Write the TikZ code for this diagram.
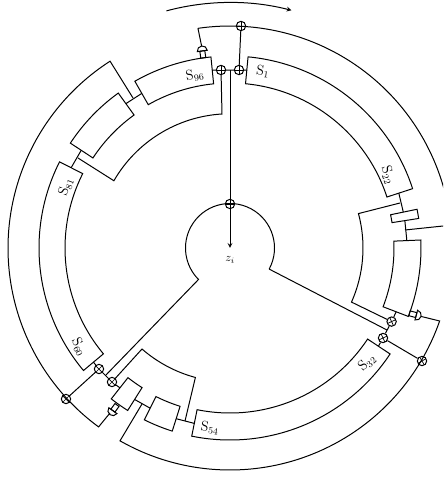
\documentclass[tikz,border=0pt]{standalone}
\usepackage{amsmath}
\usetikzlibrary{arrows,shapes,positioning}
\tikzset{
  joint/.style={circle,draw,inner sep=0pt,minimum size=8pt,
    path picture={\draw [line width=0.6pt] (path picture bounding box.center) +(#1:6pt) -- +(#1+180:6pt) +(#1+90:6pt) -- +(#1+270:6pt);}},
  joint/.default=0,
  lab/.style={inner sep=0pt,font=\large},
  valve/.pic={
    \draw (0,-2.5) rectangle (7,2.5);
    \draw (7,-5) arc (-90:90:5) -- cycle;
  }
}
\begin{document}
\begin{tikzpicture}[scale=0.03,line width=0.85pt]
                \clip (-230,-229) rectangle (213,248);
                \draw (84.6:192) arc (84.6:18:192) -- (18:165) arc (18:84.6:165) -- cycle;
                \draw (11.7:191) arc (11.7:8.9:191) -- (8.9:164) arc (8.9:11.7:164) -- cycle;
                \draw (2.4:191) arc (2.4:-21:191) -- (-21:164) arc (-21:2.4:164) -- cycle;
                \draw (-33.5:192) arc (-33.5:-101.5:192) -- (-101.5:165) arc (-101.5:-33.5:165) -- cycle;
                \draw (243.5:192) arc (243.5:252.5:192) -- (252.5:166) arc (252.5:243.5:166) -- cycle;
                \draw (231.8:192) arc (231.8:237.8:192) -- (237.8:165) arc (237.8:231.8:165) -- cycle;
                \draw (153.2:191) arc (153.2:219.9:191) -- (219.9:165) arc (219.9:153.2:165) -- cycle;
                \draw (125.8:191) arc (125.8:146.7:191) -- (146.7:164) arc (146.7:125.8:164) -- cycle;
                \draw (95.7:192) arc (95.7:119.7:192) -- (119.7:165) arc (119.7:95.7:165) -- cycle;
                \coordinate (s1left) at (17,178);
                \coordinate (s96right) at (-18,178);
                \coordinate (s96left) at (119.7:178);
                \coordinate (s96top) at (98:192);
                \coordinate (midtop) at (125.8:178);
                \coordinate (midbot) at (146.7:178);
                \coordinate (s81top) at (153.2:178);
                \coordinate (s60bot) at (219.9:178);
                \coordinate (s22bot) at (18:177.5);
                \coordinate (recttop) at (11.7:177);
                \coordinate (rectbot) at (8.9:177);
                \coordinate (righttop) at (2.4:177);
                \coordinate (rightbot) at (-21:178);
                \coordinate (s32top) at (-33.5:178);
                \coordinate (s54left) at (258.5:179);
                \coordinate (squareright) at (252.5:179);
                \coordinate (squareleft) at (243.5:179);
                \coordinate (smallright) at (237.8:179);
                \coordinate (smallleft) at (231.8:178);
                \coordinate (centre) at (0,178);
                \coordinate (zpoint) at (0,0);
                \node [joint] (jointa) at (9,178) {};
                \node [joint] (jointb) at (-9,178) {};
                \node [joint] (jointc) at (0,44) {};
                \node [joint] (jointd) at (11,222) {};
                \node [joint=25] (jointe) at (161.6,-73.6) {};
                \node [joint=25] (jointf) at (153,-90) {};
                \node [joint=30] (jointg) at (192,-113) {};
                \node [joint=45] (jointh) at (-131,-121) {};
                \node [joint=45] (jointi) at (-118,-134) {};
                \node [joint=45] (jointj) at (-164,-151) {};
                \node [lab,rotate=-8] (s1) at (33,176) {$\mathrm{S}_{1}$};
                \node [lab,rotate=-72] (s22) at (158,73) {$\mathrm{S}_{22}$};
                \node [lab,rotate=42] (s32) at (137,-115) {$\mathrm{S}_{32}$};
                \node [lab,rotate=-8] (s54) at (-20,-180) {$\mathrm{S}_{54}$};
                \node [lab,rotate=-64] (s60) at (-151,-99) {$\mathrm{S}_{60}$};
                \node [lab,rotate=70] (s81) at (-164,61) {$\mathrm{S}_{81}$};
                \node [lab,rotate=10] (s96) at (-35,173) {$\mathrm{S}_{96}$};
                \node [inner sep=0pt] (zi) at (0,-12) {$z_i$};
                \draw (s96right) -- (jointb) -- (jointa) -- (s1left);
                \draw [-stealth] (centre) -- (zpoint);
                \draw (jointd) -- (jointa);
                \coordinate (topcorner) at (98.3:222);
                \draw (topcorner) arc (98.3:5.9:222) -- (175,18);
                \coordinate (toptip) at (98:204);
                \pic (topvalve) [transform shape,rotate=98] at (s96top) {valve};
                \draw (topcorner) -- (toptip);
                \coordinate (innertop) at (-8,134);
                \draw (jointb) -- (innertop) arc (93.4:150:134) -- (-152,90);
                \draw (s96left) -- (midtop);
                \draw (midbot) -- (s81top);
                \coordinate (outertop) at (122.7:222);
                \draw (-97,150) -- (outertop) arc (122.7:233.7:222) -- (-120,-165);
                \pic (leftvalve) [transform shape,rotate=234] at (-113,-157) {valve};
                \draw (s60bot) -- (jointh) -- (jointi) -- (smallleft);
                \draw (jointh) -- (jointj);
                \draw (jointi) -- (-88,-101) arc (228.9:255:134) -- (-45,-173);
                \draw (smallright) -- (squareleft);
                \draw (squareright) -- (s54left);
                \draw (-88,-156) -- (240.3:222) arc (240.3:340.8:222) -- (191,-68.4);
                \pic (rightvalve) [transform shape,rotate=-15] at (179.5,-65.3) {valve};
                \draw (s22bot) -- (recttop);
                \draw (rectbot) -- (righttop);
                \draw (170,45) -- (15:133) arc (15:-24:133) -- (jointe);
                \draw (rightbot) -- (jointe) -- (jointf) -- (s32top);
                \draw (jointf) -- (jointg);
                \draw (-28.3:44.5) arc (-28.3:225:44.5) -- (-124.5,-127.5);
                \draw (-28.3:44.5) -- (157,-82);
                \draw [-stealth] (105:245.5) arc (105:75.5:245.5);
            \end{tikzpicture}
\end{document}
